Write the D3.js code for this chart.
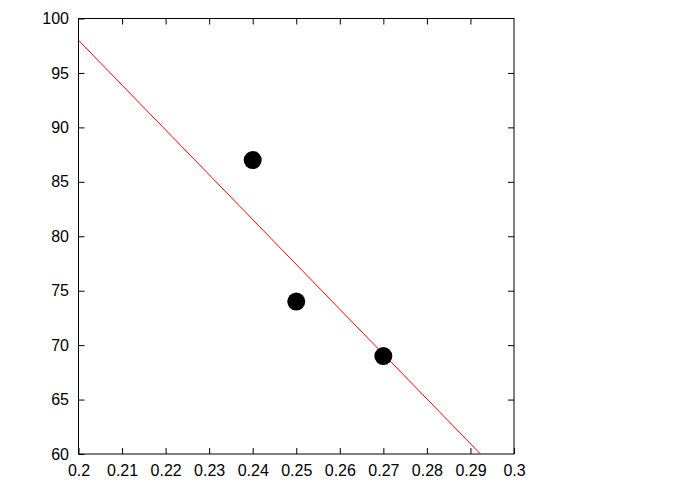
<!DOCTYPE html>
<html>
<head>
<meta charset="utf-8">
<script src="https://cdn.jsdelivr.net/npm/d3@7"></script>
<style>
  body { margin: 0; background: #fff; }
  svg { display: block; }
</style>
</head>
<body>
<div id="viz"></div>
<script>
// Data
const pointX = [0.24, 0.25, 0.27];
const pointY = [87, 74, 69];
// Fitted red line, two ends
const lineX = [0.2, 0.2923];
const lineY = [98, 60];
const xTicks = [0.2, 0.21, 0.22, 0.23, 0.24, 0.25, 0.26, 0.27, 0.28, 0.29, 0.3];
const yTicks = [60, 65, 70, 75, 80, 85, 90, 95, 100];

(function() {

let canvasWidth = 692;
let canvasHeight = 485;
let plotLeft = 78.5, plotRight = 514, plotTop = 18.5, plotBottom = 454;
let tickLen = 6;
let fontSize = "16px";

let svg = d3.select("#viz").append("svg")
  .attr("width", canvasWidth)
  .attr("height", canvasHeight);

let xScale = d3.scaleLinear().domain([0.2, 0.3]).range([plotLeft, plotRight]);
let yScale = d3.scaleLinear().domain([60, 100]).range([plotBottom, plotTop]);

// Axes with inward ticks on all four sides (gnuplot-style mirror)
let fmt = (d) => String(+d.toFixed(2));

let xAxisB = svg.append("g")
  .attr("transform", "translate(0," + plotBottom + ")")
  .call(d3.axisBottom(xScale).tickValues(xTicks).tickSizeInner(-tickLen).tickSizeOuter(0).tickFormat(fmt));
let xAxisT = svg.append("g")
  .attr("transform", "translate(0," + plotTop + ")")
  .call(d3.axisTop(xScale).tickValues(xTicks.slice(1, -1)).tickSizeInner(-tickLen).tickSizeOuter(0).tickFormat(""));
let yAxisL = svg.append("g")
  .attr("transform", "translate(" + plotLeft + ",0)")
  .call(d3.axisLeft(yScale).tickValues(yTicks).tickSizeInner(-tickLen).tickSizeOuter(0));
let yAxisR = svg.append("g")
  .attr("transform", "translate(" + plotRight + ",0)")
  .call(d3.axisRight(yScale).tickValues(yTicks.slice(1, -1)).tickSizeInner(-tickLen).tickSizeOuter(0).tickFormat(""));

svg.selectAll(".domain").remove();
svg.selectAll(".tick line").attr("stroke", "#000").attr("stroke-width", 1);
svg.selectAll("g").attr("font-family", "Liberation Sans, Arial, sans-serif").attr("font-size", fontSize);
svg.selectAll(".tick text").attr("fill", "#000");
xAxisB.selectAll(".tick text").attr("dy", "0.71em").attr("y", 11);
yAxisL.selectAll(".tick text").attr("x", -9.5);

// Frame
svg.append("rect")
  .attr("x", plotLeft).attr("y", plotTop)
  .attr("width", plotRight - plotLeft).attr("height", plotBottom - plotTop)
  .attr("fill", "none").attr("stroke", "#000").attr("stroke-width", 1);

// Red line, clipped to plot
svg.append("clipPath").attr("id", "plotclip")
  .append("rect").attr("x", plotLeft).attr("y", plotTop)
  .attr("width", plotRight - plotLeft).attr("height", plotBottom - plotTop);

svg.append("path")
  .attr("clip-path", "url(#plotclip)")
  .attr("d", d3.line().x((d) => xScale(d[0])).y((d) => yScale(d[1]))(d3.zip(lineX, lineY)))
  .attr("fill", "none")
  .attr("stroke", "#ff0000")
  .attr("stroke-width", 1);

// Points
svg.append("g").selectAll("circle")
  .data(d3.zip(pointX, pointY))
  .enter().append("circle")
  .attr("cx", (d) => xScale(d[0]))
  .attr("cy", (d) => yScale(d[1]))
  .attr("r", 9)
  .attr("fill", "#000");

})();
</script>
</body>
</html>
